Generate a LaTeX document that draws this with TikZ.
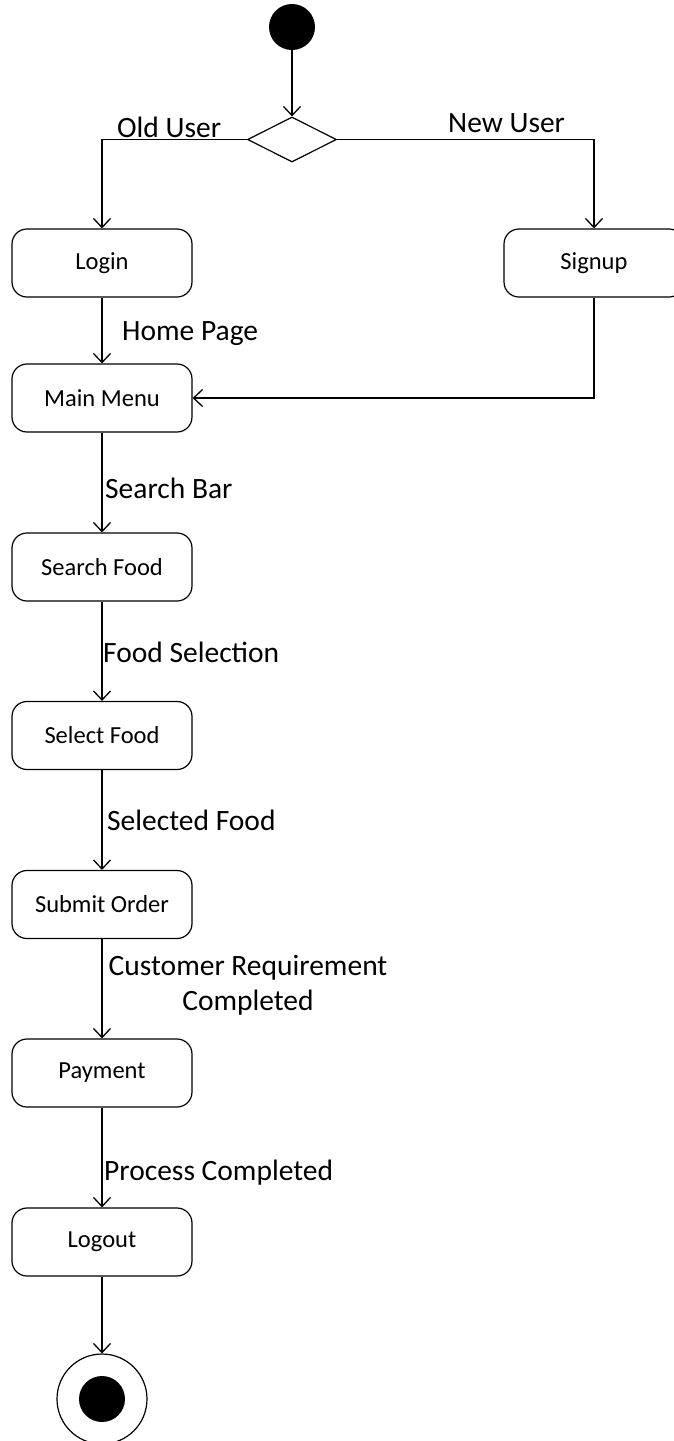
\documentclass[tikz,border=0pt]{standalone}
\usepackage{fontspec}
\setmainfont{Carlito}
\usetikzlibrary{arrows.meta,shapes.geometric}
\begin{document}
\begin{tikzpicture}[x=1pt,y=-1pt,
  act/.style={draw, line width=1.2pt, rounded corners=15pt, minimum width=180pt,
    minimum height=68pt, inner sep=0pt, font=\fontsize{24.5}{29}\selectfont},
  flow/.style={draw, line width=1.3pt,
    -{Straight Barb[length=9pt,width=17pt,line width=1.3pt]}},
  lbl/.style={inner sep=0pt, anchor=base west, font=\fontsize{29.5}{35}\selectfont},
]
\clip (0,0) rectangle (674,1441);

% initial and decision nodes
\node[circle, fill=black, minimum size=46pt, inner sep=0pt] (start) at (292,27) {};
\node[diamond, draw, line width=1.2pt, minimum width=89pt, minimum height=45pt,
      inner sep=0pt] (dec) at (292,139.5) {};

% activities
\node[act] (login)  at (102,263)   {Login};
\node[act] (signup) at (594,263)   {Signup};
\node[act] (main)   at (102,398)   {Main Menu};
\node[act] (search) at (102,567)   {Search Food};
\node[act] (select) at (102,735.5) {Select Food};
\node[act] (submit) at (102,904.5) {Submit Order};
\node[act] (pay)    at (102,1073)  {Payment};
\node[act] (logout) at (102,1242)  {Logout};

% final node
\node[circle, draw, line width=1.2pt, minimum size=90pt, inner sep=0pt] (final) at (102,1399) {};
\node[circle, fill=black, minimum size=46pt, inner sep=0pt] (finaldot) at (final.center) {};

% transitions
\draw[flow] (start) -- (dec);
\draw[flow] (dec.west) -| (login.north);
\draw[flow] (dec.east) -| (signup.north);
\draw[flow] (login) -- (main);
\draw[flow] (signup.south) |- (main.east);
\draw[flow] (main) -- (search);
\draw[flow] (search) -- (select);
\draw[flow] (select) -- (submit);
\draw[flow] (submit) -- (pay);
\draw[flow] (pay) -- (logout);
\draw[flow] (logout) -- (final);

% guard labels
\node[lbl] (lold)    at (117,137)  {Old User};
\node[lbl] (lnew)    at (448,132)  {New User};
\node[lbl] (lhome)   at (122,340)  {Home Page};
\node[lbl] (lsearch) at (105,498)  {Search Bar};
\node[lbl] (lfoodsel) at (103,662) {Food Selection};
\node[lbl] (lselected) at (107,830) {Selected Food};
\node[lbl, anchor=base, align=center] (lcust) at (248,1010) {Customer Requirement\\Completed};
\node[lbl] (lproc)   at (104,1180) {Process Completed};
\end{tikzpicture}
\end{document}
